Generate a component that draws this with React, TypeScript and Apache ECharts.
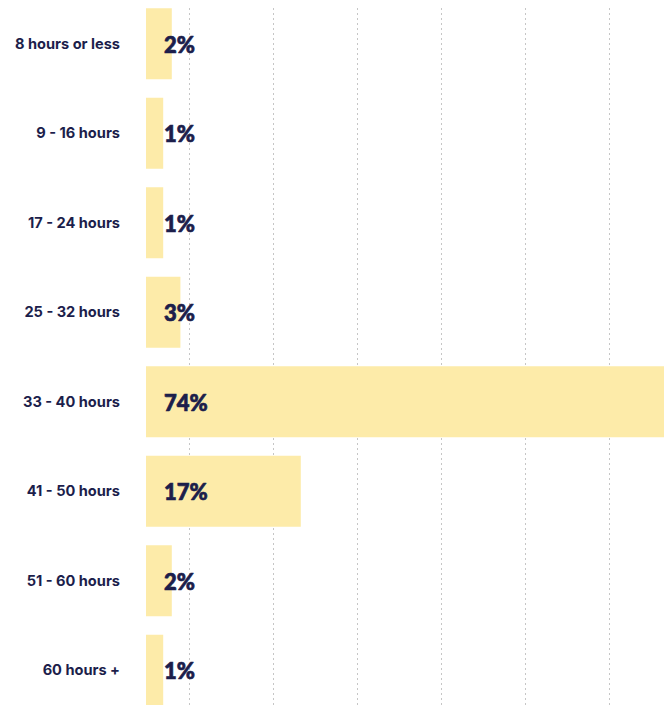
import React, { useEffect, useRef } from "react";
import * as echarts from "echarts";

const categories = [
  "8 hours or less",
  "9 - 16 hours",
  "17 - 24 hours",
  "25 - 32 hours",
  "33 - 40 hours",
  "41 - 50 hours",
  "51 - 60 hours",
  "60 hours +",
];
const shares = [2, 1, 1, 3, 74, 17, 2, 1];
const gridTicks = [0, 10, 20, 30, 40, 50, 60];

const NAVY = "#1c1e4b";
const BAR = "#fdeba9";

export default function App() {
  const ref = useRef<HTMLDivElement>(null);
  useEffect(() => {
    document.body.style.margin = "0";
    const chart = echarts.init(ref.current!, null, { renderer: "svg" });
    chart.setOption({
      animation: false,
      grid: [
        { left: 146, top: 0, width: 81 * 8.6, height: 716, containLabel: false },
        { left: 189, top: 9, width: 84 * 6, height: 740, containLabel: false },
      ],
      xAxis: [
        { type: "value", gridIndex: 0, min: -1, max: 80, show: false },
        {
          type: "value",
          gridIndex: 1,
          min: gridTicks[0],
          max: gridTicks[gridTicks.length - 1],
          interval: 10,
          axisLine: { show: false },
          axisTick: { show: false },
          axisLabel: { show: false },
          splitLine: {
            show: true,
            lineStyle: { color: "#c6c6c6", width: 1, type: [2, 3] },
          },
        },
      ],
      yAxis: [
        {
          type: "category",
          gridIndex: 0,
          inverse: true,
          data: categories,
          axisLine: { show: false },
          axisTick: { show: false },
          splitLine: { show: false },
          axisLabel: {
            color: NAVY,
            fontSize: 14.6,
            fontWeight: 700,
            fontFamily: "Inter",
            margin: 26,
          },
        },
        { type: "value", gridIndex: 1, show: false, min: 0, max: 1 },
      ],
      series: [
        {
          type: "custom",
          xAxisIndex: 0,
          yAxisIndex: 0,
          encode: { x: 0, y: 1 },
          data: shares.map((v, i) => [v, i]),
          z: 5,
          renderItem: (params: any, api: any) => {
            const v = api.value(0);
            const c = api.value(1);
            const start = api.coord([-1, c]);
            const end = api.coord([v, c]);
            const h = api.size([0, 1])[1] * 0.793;
            return {
              type: "group",
              children: [
                {
                  type: "rect",
                  shape: { x: start[0], y: start[1] - h / 2, width: end[0] - start[0], height: h },
                  style: { fill: BAR },
                },
                {
                  type: "text",
                  x: start[0] + 18,
                  y: start[1] + 0.5,
                  style: {
                    text: v + "%",
                    fill: NAVY,
                    fontSize: 22,
                    fontWeight: 900,
                    fontFamily: "Lato",
                    stroke: NAVY,
                    lineWidth: 0.7,
                    align: "left",
                    verticalAlign: "middle",
                  },
                },
              ],
            };
          },
        },
      ],
    });
    return () => chart.dispose();
  }, []);
  return (
    <div style={{ position: "fixed", left: 0, top: 0, width: 664, height: 705, overflow: "hidden", background: "#fff" }}>
      <div ref={ref} style={{ position: "absolute", left: 0, top: -1.25, width: 900, height: 760 }} />
    </div>
  );
}
